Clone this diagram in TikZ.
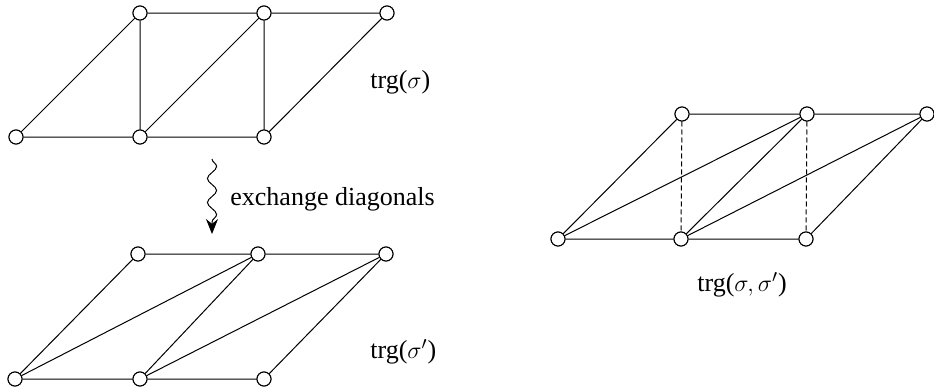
\documentclass[tikz,border=0pt]{standalone}
\usepackage{fontspec}
\setmainfont{Liberation Serif}
\usetikzlibrary{decorations.pathmorphing,arrows.meta}
\begin{document}
\begin{tikzpicture}[x=0.5pt,y=-0.5pt,
  vtx/.style={circle,draw,fill=white,inner sep=0pt,minimum size=7pt,line width=0.5pt},
  edge/.style={line width=0.5pt},
  dedge/.style={line width=0.5pt,dash pattern=on 2.5pt off 1.5pt},
  lbl/.style={font=\fontsize{13}{15}\selectfont,inner sep=0pt}]
\useasboundingbox (0,0) rectangle (934,391);
% top figure
\node[vtx] (a1) at (140,13) {};
\node[vtx] (a2) at (264,13) {};
\node[vtx] (a3) at (387,13) {};
\node[vtx] (a4) at (16,137) {};
\node[vtx] (a5) at (140,137) {};
\node[vtx] (a6) at (264,137) {};
\draw[edge] (a1) -- (a2) (a2) -- (a3) (a4) -- (a5) (a5) -- (a6)
  (a4) -- (a1) (a5) -- (a2) (a6) -- (a3) (a1) -- (a5) (a2) -- (a6);
\node[lbl,anchor=west] (l1) at (370,82) {trg($\sigma$)};
% arrow
\coordinate (s1) at (212,159);
\coordinate (s2) at (212,234);
\draw[edge,-{Stealth[length=7.5pt,width=6pt]},decorate,decoration={snake,amplitude=2.3pt,segment length=12pt,post length=6pt}] (s1) -- (s2);
\node[lbl,anchor=west] (l2) at (230,199) {exchange diagonals};
% bottom figure
\node[vtx] (b1) at (138,254) {};
\node[vtx] (b2) at (258,254) {};
\node[vtx] (b3) at (386,254) {};
\node[vtx] (b4) at (15,379) {};
\node[vtx] (b5) at (140,379) {};
\node[vtx] (b6) at (264,379) {};
\draw[edge] (b1) -- (b2) (b2) -- (b3) (b4) -- (b5) (b5) -- (b6)
  (b4) -- (b1) (b5) -- (b2) (b6) -- (b3) (b4) -- (b2) (b5) -- (b3);
\node[lbl,anchor=west] (l3) at (370,352) {trg($\sigma'$)};
% right figure
\node[vtx] (c1) at (682,114) {};
\node[vtx] (c2) at (807,114) {};
\node[vtx] (c3) at (927,114) {};
\node[vtx] (c4) at (558,239) {};
\node[vtx] (c5) at (681,239) {};
\node[vtx] (c6) at (806,239) {};
\draw[edge] (c1) -- (c2) (c2) -- (c3) (c4) -- (c5) (c5) -- (c6)
  (c4) -- (c1) (c5) -- (c2) (c6) -- (c3) (c4) -- (c2) (c5) -- (c3);
\draw[dedge] (c1) -- (c5) (c2) -- (c6);
\node[lbl,anchor=west] (l4) at (697,285) {trg($\sigma, \sigma'$)};
% redraw vertices on top
\foreach \n in {a1,a2,a3,a4,a5,a6,b1,b2,b3,b4,b5,b6,c1,c2,c3,c4,c5,c6}
  \node[vtx] at (\n) {};
\end{tikzpicture}
\end{document}
